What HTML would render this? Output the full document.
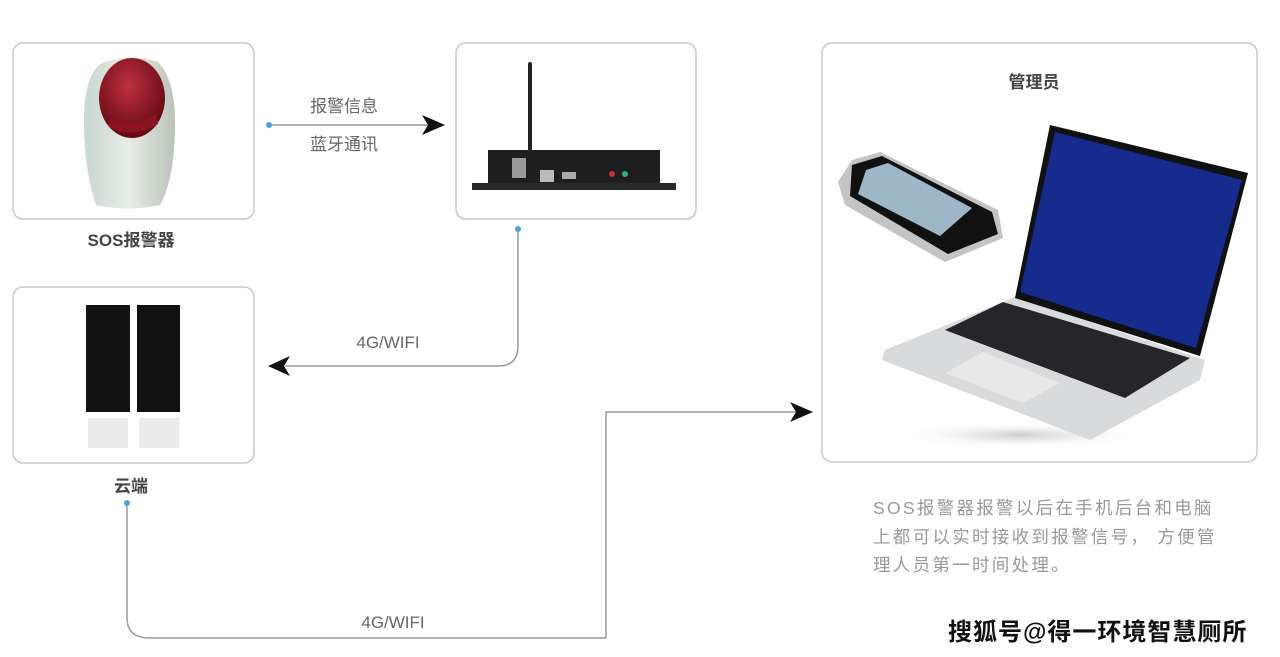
<!DOCTYPE html>
<html><head><meta charset="utf-8"><style>
html,body{margin:0;padding:0;background:#fff;}
svg{display:block;}
text{font-family:"Liberation Sans","Noto Sans CJK SC",sans-serif;}
</style></head><body>
<svg width="1280" height="657" viewBox="0 0 1280 657" xmlns="http://www.w3.org/2000/svg">
<defs>
<linearGradient id="alarm" x1="0" x2="1"><stop offset="0" stop-color="#c9d6d2"/><stop offset="0.5" stop-color="#e8ece6"/><stop offset="1" stop-color="#b9c2b8"/></linearGradient>
<radialGradient id="dome" cx="0.45" cy="0.35" r="0.6"><stop offset="0" stop-color="#c03040"/><stop offset="1" stop-color="#6a0c16"/></radialGradient>
<radialGradient id="shadow" cx="0.5" cy="0.5" r="0.5"><stop offset="0" stop-color="#999" stop-opacity="0.5"/><stop offset="1" stop-color="#fff" stop-opacity="0"/></radialGradient>
</defs>
<g fill="#fff" stroke="#c9c9c9" stroke-width="1.5">
<rect x="13" y="43" width="241" height="176" rx="10"/>
<rect x="456" y="43" width="240" height="176" rx="10"/>
<rect x="13" y="287" width="241" height="176" rx="10"/>
<rect x="822" y="43" width="435" height="419" rx="10"/>
</g>
<!-- alarm -->
<path d="M100 64 Q128 52 158 62 Q176 80 175 130 Q174 180 160 205 Q128 212 96 205 Q84 170 84 120 Q84 78 100 64Z" fill="url(#alarm)"/>
<ellipse cx="132" cy="98" rx="33" ry="40" fill="url(#dome)"/>
<path d="M110 118 Q130 130 156 114 L158 124 Q132 140 108 126Z" fill="#8a1420"/>
<!-- router -->
<rect x="528" y="62" width="4" height="95" fill="#222" rx="2"/>
<rect x="488" y="150" width="172" height="40" fill="#1e1e1e"/>
<rect x="472" y="183" width="204" height="7" fill="#2a2a2a"/>
<rect x="512" y="158" width="14" height="20" fill="#999"/>
<rect x="540" y="170" width="14" height="12" fill="#bbb"/>
<rect x="562" y="172" width="14" height="7" fill="#aaa"/>
<circle cx="612" cy="174" r="3" fill="#c33"/><circle cx="625" cy="174" r="3" fill="#3a8"/>
<!-- servers -->
<rect x="86" y="305" width="44" height="107" fill="#111"/>
<rect x="137" y="305" width="43" height="107" fill="#111"/>
<rect x="88" y="418" width="40" height="30" fill="#ddd" opacity="0.6"/>
<rect x="139" y="418" width="40" height="30" fill="#ddd" opacity="0.6"/>
<!-- phone -->
<polygon points="838,182 852,160 880,152 998,210 1003,238 945,262 845,205" fill="#c4c4c4"/>
<polygon points="852,165 882,156 992,212 998,234 948,254 850,196" fill="#111"/>
<polygon points="866,170 888,163 972,208 940,236 858,194" fill="#9db6c8"/>
<!-- laptop -->
<ellipse cx="1020" cy="435" rx="130" ry="14" fill="url(#shadow)"/>
<polygon points="885,350 1015,297 1205,360 1200,380 1090,440 882,360" fill="#d9dadc"/>
<polygon points="945,330 1003,302 1190,358 1125,398" fill="#26262a"/>
<polygon points="945,373 983,352 1060,383 1023,403" fill="#e8e8e8"/>
<polygon points="1050,125 1248,173 1200,356 1015,298" fill="#111"/>
<polygon points="1055,132 1242,180 1196,348 1020,292" fill="#172a8e"/>
<!-- connectors -->
<g fill="none" stroke="#9a9a9a" stroke-width="1.5">
<path d="M269 125 H432"/>
<path d="M518 229 V346 Q518 366 498 366 H285"/>
<path d="M127 503 V618 Q127 638 150 638 H606 V412 H798"/>
</g>
<g fill="#4aa3d6"><circle cx="269" cy="125" r="3"/><circle cx="518" cy="229" r="3"/><circle cx="127" cy="503" r="3"/></g>
<g fill="#111">
<path d="M445 125 L422 115 L428 125 L422 135Z"/>
<path d="M268 366 L290 356 L284 366 L290 376Z"/>
<path d="M813 412 L790 402 L796 412 L790 422Z"/>
</g>
<g fill="#666" font-size="17">
<text x="344" y="112" text-anchor="middle">报警信息</text>
<text x="344" y="150" text-anchor="middle">蓝牙通讯</text>
<text x="388" y="348" text-anchor="middle" font-size="17">4G/WIFI</text>
<text x="393" y="628" text-anchor="middle" font-size="17">4G/WIFI</text>
</g>
<text x="131" y="246" text-anchor="middle" font-size="17" font-weight="bold" fill="#444">SOS报警器</text>
<text x="131" y="492" text-anchor="middle" font-size="17" font-weight="bold" fill="#444">云端</text>
<text x="1034" y="88" text-anchor="middle" font-size="17" font-weight="bold" fill="#444">管理员</text>
<g fill="#999" font-size="17.5" letter-spacing="2.3">
<text x="873" y="514">SOS报警器报警以后在手机后台和电脑</text>
<text x="873" y="543">上都可以实时接收到报警信号， 方便管</text>
<text x="873" y="571">理人员第一时间处理。</text>
</g>
<text x="948" y="640" font-size="24" font-weight="bold" fill="#111" letter-spacing="1">搜狐号@得一环境智慧厕所</text>
</svg>
</body></html>
